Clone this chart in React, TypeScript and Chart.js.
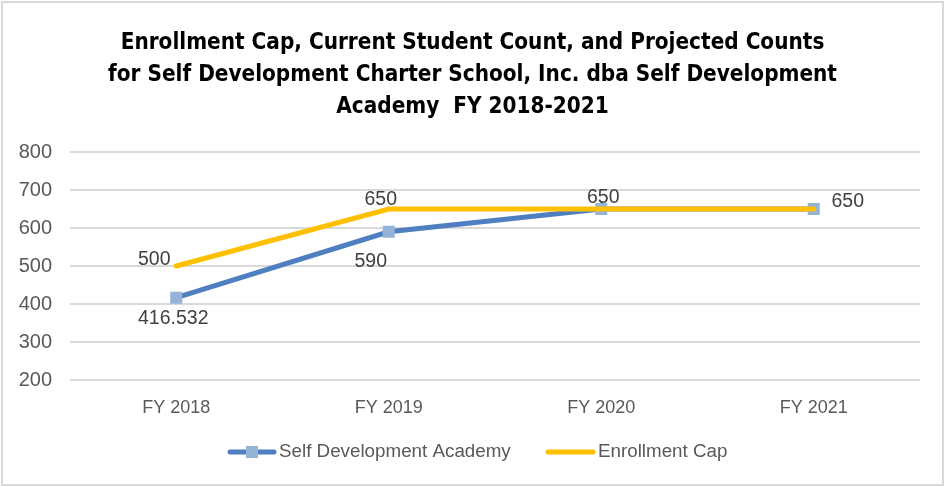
import { useEffect, useRef } from "react";
import { Chart, registerables } from "chart.js";

Chart.register(...registerables);

// ---- data ----
const categories = ["FY 2018", "FY 2019", "FY 2020", "FY 2021"];
const academyCounts = [416.532, 590, 650, 650];
const enrollmentCap = [500, 650, 650, 650];
const yMin = 200;
const yMax = 800;
const yStep = 100;
const titleLines = [
  "Enrollment Cap, Current Student Count, and Projected Counts",
  "for Self Development Charter School, Inc. dba Self Development",
  "Academy  FY 2018-2021",
];
const seriesNames = ["Self Development Academy", "Enrollment Cap"];
const academyLabelShown = [true, true, true, true];
const capLabelShown = [true, true, false, false];

// ---- styles ----
const BLUE = "#4F7FC0";
const BLUE_MARKER = "#95B3D7";
const YELLOW = "#FFC000";
const GRID = "#D9D9D9";
const TICK_TEXT = "#595959";
const LABEL_TEXT = "#404040";
const FONT = '"Liberation Sans", Arial, sans-serif';
const TITLE_FONT = '"Liberation Sans Narrow", "DejaVu Sans Condensed", "Liberation Sans", sans-serif';
const academyLabelOffsets: [number, number][] = [[-3, 21], [-18, 30], [2, -11], [34, -7]];
const capLabelOffsets: [number, number][] = [[-22, -6], [-8, -9], [0, 0], [0, 0]];

const decorPlugin = {
  id: "decor",
  beforeDraw(chart: any) {
    const ctx = chart.ctx;
    ctx.save();
    ctx.fillStyle = "#ffffff";
    ctx.fillRect(0, 0, chart.width, chart.height);
    ctx.restore();
  },
  afterDatasetsDraw(chart: any) {
    const ctx = chart.ctx;
    ctx.save();
    ctx.font = `19.5px ${FONT}`;
    ctx.fillStyle = LABEL_TEXT;
    ctx.textAlign = "center";
    ctx.textBaseline = "middle";
    const drawLabels = (dsIndex: number, values: number[], shown: boolean[], offs: [number, number][]) => {
      const meta = chart.getDatasetMeta(dsIndex);
      meta.data.forEach((pt: any, i: number) => {
        if (!shown[i]) return;
        ctx.fillText(String(values[i]), pt.x + offs[i][0], pt.y + offs[i][1]);
      });
    };
    drawLabels(1, academyCounts, academyLabelShown, academyLabelOffsets);
    drawLabels(0, enrollmentCap, capLabelShown, capLabelOffsets);
    ctx.restore();
  },
  afterDraw(chart: any) {
    const ctx = chart.ctx;
    ctx.save();
    // outer border
    ctx.strokeStyle = GRID;
    ctx.lineWidth = 2;
    ctx.strokeRect(2, 2, chart.width - 4, chart.height - 4);

    // title, fitted so first line spans the reference width
    let size = 24;
    ctx.font = `bold ${size}px ${TITLE_FONT}`;
    const w = ctx.measureText(titleLines[0]).width;
    size = size * (704 / w);
    ctx.font = `bold ${size}px ${TITLE_FONT}`;
    ctx.fillStyle = "#000000";
    ctx.textAlign = "center";
    ctx.textBaseline = "middle";
    titleLines.forEach((line, i) => {
      ctx.fillText(line, 472.5, 43 + i * 32);
    });

    // legend
    const ly = 452;
    ctx.lineCap = "round";
    ctx.lineWidth = 5;
    ctx.strokeStyle = BLUE;
    ctx.beginPath();
    ctx.moveTo(230, ly);
    ctx.lineTo(274, ly);
    ctx.stroke();
    ctx.fillStyle = BLUE_MARKER;
    ctx.fillRect(252 - 6, ly - 6, 12, 12);
    ctx.strokeStyle = YELLOW;
    ctx.beginPath();
    ctx.moveTo(548, ly);
    ctx.lineTo(593, ly);
    ctx.stroke();
    ctx.font = `18.8px ${FONT}`;
    ctx.fillStyle = TICK_TEXT;
    ctx.textAlign = "left";
    ctx.fillText(seriesNames[0], 279, ly);
    ctx.fillText(seriesNames[1], 598, ly);
    ctx.restore();
  },
};

export default function App() {
  const ref = useRef<HTMLCanvasElement | null>(null);
  useEffect(() => {
    if (!ref.current) return;
    const chart = new Chart(ref.current, {
      type: "line",
      data: {
        labels: categories,
        datasets: [
          {
            label: seriesNames[1],
            data: enrollmentCap,
            borderColor: YELLOW,
            backgroundColor: YELLOW,
            borderWidth: 5,
            pointRadius: 0,
            pointHoverRadius: 0,
            tension: 0,
            borderCapStyle: "round",
          },
          {
            label: seriesNames[0],
            data: academyCounts,
            borderColor: BLUE,
            backgroundColor: BLUE_MARKER,
            borderWidth: 5,
            pointStyle: "rect",
            pointRadius: 8.5,
            pointBorderWidth: 0,
            pointBackgroundColor: BLUE_MARKER,
            tension: 0,
          },
        ],
      },
      options: {
        responsive: false,
        animation: false,
        devicePixelRatio: 1,
        layout: { padding: { top: 152, left: 0, right: 25, bottom: 67 } },
        plugins: {
          legend: { display: false },
          title: { display: false },
          tooltip: { enabled: false },
        },
        scales: {
          x: {
            offset: true,
            grid: { display: false, drawTicks: false },
            border: { display: false },
            ticks: { font: { family: FONT, size: 18 }, color: TICK_TEXT, padding: 17, maxRotation: 0 },
            afterFit: (s: any) => { s.height = 40; },
          },
          y: {
            min: yMin,
            max: yMax,
            ticks: { stepSize: yStep, font: { family: FONT, size: 20 }, color: TICK_TEXT, padding: 18 },
            grid: { color: GRID, lineWidth: 2, drawTicks: false },
            border: { display: false },
            afterFit: (s: any) => { s.width = 70; },
          },
        },
      },
      plugins: [decorPlugin],
    });
    return () => chart.destroy();
  }, []);
  return (
    <div style={{ position: "absolute", left: 0, top: 0, width: 945, height: 487 }}>
      <canvas ref={ref} width={945} height={487} style={{ display: "block" }} />
    </div>
  );
}
